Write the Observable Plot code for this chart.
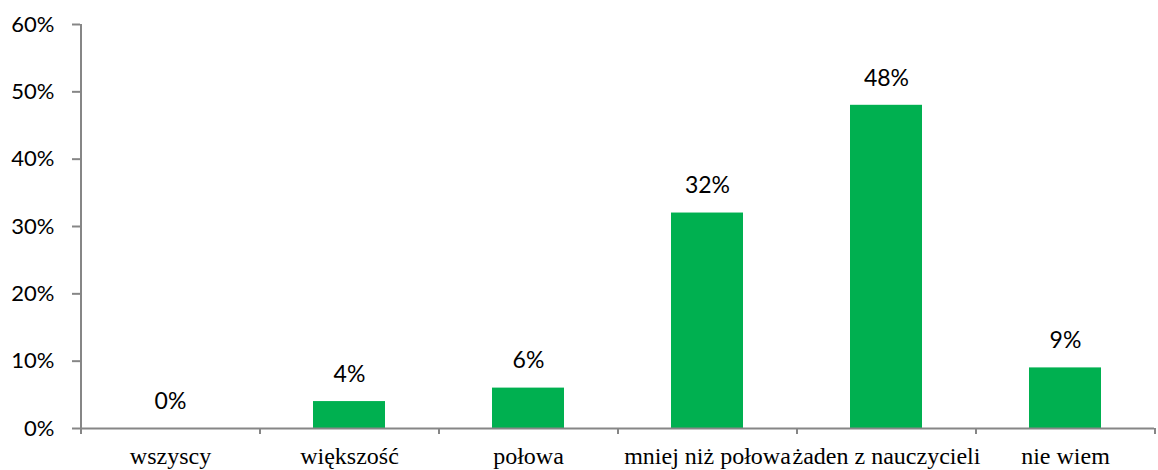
<!DOCTYPE html>
<html>
<head>
<meta charset="utf-8">
<script src="https://cdn.jsdelivr.net/npm/d3@7"></script>
<script src="https://cdn.jsdelivr.net/npm/@observablehq/plot@0.6"></script>
<style>
  body { margin: 0; background: #fff; }
</style>
</head>
<body>
<div id="chart"></div>
<script>
const categories = ["wszyscy", "większość", "połowa", "mniej niż połowa", "żaden z nauczycieli", "nie wiem"];
const values = [0.00, 0.04, 0.06, 0.32, 0.48, 0.09];
const yTicks = [0, 0.1, 0.2, 0.3, 0.4, 0.5, 0.6];

const data = categories.map((c, i) => ({category: c, value: values[i]}));

const W = 1158, H = 470;
const mL = 80, mR = 4, mT = 24, mB = 42;
const band = (W - mL - mR) / categories.length;
const axisColor = "#868686";
const sans = "Lato, 'Open Sans', sans-serif";
const serif = "'Liberation Serif', 'DejaVu Serif', serif";

const chart = Plot.plot({
  width: W,
  height: H,
  marginLeft: mL,
  marginRight: mR,
  marginTop: mT,
  marginBottom: mB,
  style: {background: "#fff", color: "#000", overflow: "visible"},
  x: {domain: categories, paddingInner: 0.6, paddingOuter: 0.3, align: 0.5, label: null},
  y: {domain: [0, 0.6], label: null},
  marks: [
    Plot.axisY({ticks: yTicks, tickFormat: d3.format(".0%"), tickSize: 8, tickPadding: 18,
      stroke: axisColor, strokeWidth: 2, strokeOpacity: 1,
      fontSize: 22, fontFamily: sans, fill: "#000", label: null}),
    Plot.axisX({tickSize: 0, tickPadding: 18, fontSize: 24, fontFamily: serif, fill: "#000", label: null}),
    Plot.barY(data, {x: "category", y: "value", fill: "#00B050"}),
    Plot.ruleX([categories[0]], {x: d => d, y1: 0, y2: 0.6, dx: -band / 2, stroke: axisColor, strokeWidth: 2}),
    Plot.ruleY([0], {stroke: axisColor, strokeWidth: 2}),
    Plot.ruleX(categories, {x: d => d, y1: 0, y2: -0.009, dx: -band / 2, stroke: axisColor, strokeWidth: 2}),
    Plot.ruleX([categories[categories.length - 1]], {x: d => d, y1: 0, y2: -0.009, dx: band / 2, stroke: axisColor, strokeWidth: 2}),
    Plot.text(data, {x: "category", y: "value", text: d => d3.format(".0%")(d.value), dy: -27,
      fontSize: 23, fontFamily: sans, fill: "#000"})
  ]
});
document.getElementById("chart").appendChild(chart);
</script>
</body>
</html>
